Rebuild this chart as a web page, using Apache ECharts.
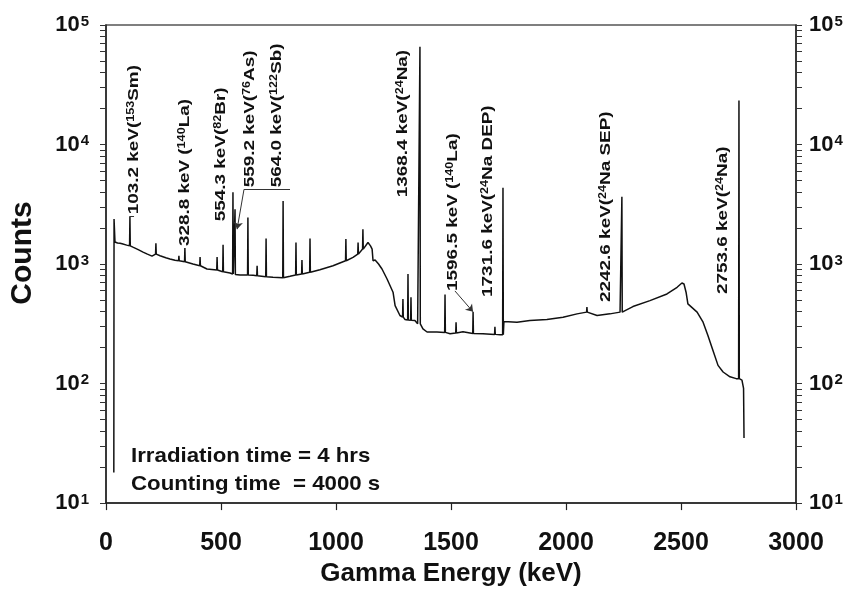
<!DOCTYPE html>
<html>
<head>
<meta charset="utf-8">
<title>Gamma spectrum</title>
<script src="https://cdn.jsdelivr.net/npm/echarts@6/dist/echarts.min.js"></script>
<style>
  html, body { margin: 0; padding: 0; background: #fff; }
  #main { width: 856px; height: 592px; }
</style>
</head>
<body>
<div id="main"></div>
<script>
(function () {

  // smooth part of the spectrum, [keV, counts]
  var continuum = [
    [34, 18], [35, 2380], [39, 1530], [50, 1500], [61, 1495], [66, 1540], [70, 1480],
    [90, 1440], [117, 1385], [140, 1320], [161, 1260], [180, 1210], [200, 1166],
    [235, 1173], [260, 1130], [278, 1101], [300, 1075], [378, 1000], [439, 909],
    [539, 841], [583, 810], [640, 805], [726, 774], [800, 790], [930, 897], [987, 968],
    [1074, 1137], [1139, 1516], [1150, 1420], [1157, 1334], [1161, 1066], [1170, 1080],
    [1178, 1101], [1185, 1000], [1200, 909], [1222, 750], [1248, 581], [1257, 449],
    [1278, 371], [1300, 344], [1343, 337], [1355, 316], [1378, 287], [1396, 270],
    [1439, 270], [1496, 261], [1552, 271], [1639, 261], [1713, 256], [1730, 330],
    [1787, 326], [1843, 337], [1917, 344], [1987, 359], [2048, 383], [2135, 371],
    [2191, 383], [2235, 396], [2257, 408], [2291, 441], [2365, 494], [2439, 562],
    [2483, 639], [2504, 694], [2513, 681], [2522, 581], [2530, 464], [2570, 396],
    [2596, 326], [2617, 252], [2639, 189], [2661, 142], [2683, 125], [2713, 114],
    [2740, 110], [2765, 107], [2772, 91], [2774, 35]
  ];

  // photopeaks: [keV, base counts, top counts]
  var peaks = [
    [104, 1420, 2512], [217, 1211, 1495], [317, 1066, 1173], [343, 1045, 1360],
    [409, 968, 1144], [483, 891, 1144], [509, 862, 1449], [552, 825, 3981],
    [561, 818, 2873], [617, 810, 2450], [657, 800, 968], [696, 784, 1637],
    [770, 769, 3375], [826, 810, 1516], [852, 825, 1080], [887, 853, 1637],
    [1043, 1066, 1616], [1096, 1211, 1516], [1117, 1334, 1957], [1291, 360, 511],
    [1313, 340, 825], [1326, 338, 527], [1365, 316, 65900], [1474, 268, 555],
    [1522, 265, 326], [1596, 262, 396], [1691, 258, 298], [1726, 256, 4357],
    [2091, 396, 436], [2243, 396, 3664], [2752, 110, 23400]
  ];

  var yDecades = [10, 100, 1000, 10000, 100000];

  // peak labels: text before superscript, superscript, text after
  var labelText = [
    ['103.2 keV(', '153', 'Sm)'],
    ['328.8 keV (', '140', 'La)'],
    ['554.3 keV(', '82', 'Br)'],
    ['559.2 keV(', '76', 'As)'],
    ['564.0 keV(', '122', 'Sb)'],
    ['1368.4 keV(', '24', 'Na)'],
    ['1596.5 keV (', '140', 'La)'],
    ['1731.6 keV(', '24', 'Na DEP)'],
    ['2242.6 keV(', '24', 'Na SEP)'],
    ['2753.6 keV(', '24', 'Na)']
  ];
  // where each label starts (bottom of the rotated text), in data units
  var labelAt = [
    [152, 2610], [374, 1413], [530, 2282], [657, 4381], [774, 4381],
    [1322, 3616], [1539, 596], [1691, 531], [2204, 482], [2713, 562]
  ];

  // leader lines and arrows, in data units
  var leaders = [
    [[104, 2512], [122, 2512], 'none'],
    [[600, 4217], [800, 4217], 'none'],
    [[600, 4217], [570, 1957], 'arrow'],
    [[1517, 596], [1596, 398], 'arrow']
  ];

  var notes = ['Irradiation time = 4 hrs', 'Counting time  = 4000 s'];

  var spectrum = continuum.map(function (p) { return p.slice(); });
  peaks.forEach(function (p) {
    spectrum.push([p[0] - 1.5, p[1]], [p[0], p[2]], [p[0] + 1.5, p[1]]);
  });
  spectrum.sort(function (a, b) { return a[0] - b[0]; });

  var allYTicks = [];
  yDecades.forEach(function (d, i) {
    allYTicks.push(d);
    if (i < yDecades.length - 1) {
      for (var k = 2; k <= 9; k++) allYTicks.push(d * k);
    }
  });

  var FONT = '"Liberation Sans", Arial, sans-serif';

  function powLabel(v) {
    var e = Math.round(Math.log(v) / Math.LN10);
    return '{b|10}{s|' + e + '}';
  }
  var powRich = {
    b: { fontSize: 22, fontWeight: 'bold', fontFamily: FONT, color: '#111', lineHeight: 22 },
    s: { fontSize: 15, fontWeight: 'bold', fontFamily: FONT, color: '#111', verticalAlign: 'top', lineHeight: 15, padding: [0, 0, 6, 1] }
  };

  function yAxis(pos, margin) {
    return {
      type: 'log',
      logBase: 10,
      position: pos,
      min: 10,
      max: 100000,
      axisLine: { show: true, lineStyle: { color: '#222', width: 1.5 } },
      axisTick: { show: true, inside: false, length: 6, customValues: allYTicks, lineStyle: { color: '#333', width: 1 } },
      axisLabel: { margin: margin, formatter: powLabel, rich: powRich },
      splitLine: { show: false },
      minorTick: { show: false }
    };
  }

  var myChart = echarts.init(document.getElementById('main'));
  var option = {
    animation: false,
    backgroundColor: '#fff',
    grid: { left: 106, right: 60, top: 25, bottom: 87, show: true, borderColor: '#555', borderWidth: 1.5 },
    xAxis: {
      type: 'value',
      min: 0,
      max: 3000,
      interval: 500,
      name: 'Gamma Energy (keV)',
      nameLocation: 'middle',
      nameGap: 54,
      nameTextStyle: { fontSize: 26, fontWeight: 'bold', fontFamily: FONT, color: '#111' },
      axisLine: { lineStyle: { color: '#222', width: 1.5 } },
      axisTick: { inside: false, length: 7, lineStyle: { color: '#222', width: 1.2 } },
      axisLabel: {
        margin: 28, fontSize: 25, fontWeight: 'bold', fontFamily: FONT, color: '#111',
        formatter: function (v) { return String(v); }
      },
      splitLine: { show: false }
    },
    yAxis: [yAxis('left', 17), yAxis('right', 13)],
    series: [{
      type: 'line',
      data: spectrum,
      showSymbol: false,
      symbol: 'none',
      lineStyle: { color: '#111', width: 1.5 },
      silent: true,
      markLine: {
        silent: true,
        animation: false,
        symbolSize: 7,
        label: { show: false },
        lineStyle: { color: '#333', width: 1, type: 'solid' },
        data: leaders.map(function (l) {
          return [{ coord: l[0], symbol: 'none' }, { coord: l[1], symbol: l[2] }];
        })
      }
    }]
  };
  myChart.setOption(option);

  // text that sits on the plot
  var graphics = [];
  labelText.forEach(function (t, i) {
    var p = myChart.convertToPixel({ gridIndex: 0 }, labelAt[i]);
    graphics.push({
      type: 'text',
      x: p[0],
      y: p[1],
      rotation: Math.PI / 2,
      scaleX: 1.26,
      silent: true,
      style: {
        text: '{m|' + t[0] + '}{s|' + t[1] + '}{m|' + t[2] + '}',
        align: 'left',
        verticalAlign: 'bottom',
        rich: {
          m: { fontSize: 15, fontWeight: 'bold', fontFamily: FONT, fill: '#111', lineHeight: 15 },
          s: { fontSize: 10, fontWeight: 'bold', fontFamily: FONT, fill: '#111', verticalAlign: 'top', lineHeight: 10, padding: [0, 0, 5, 0] }
        }
      }
    });
  });
  graphics.push({
    type: 'text',
    x: 23, y: 253,
    rotation: Math.PI / 2,
    silent: true,
    style: { text: 'Counts', fontSize: 30, fontWeight: 'bold', fontFamily: FONT, fill: '#111', align: 'center', verticalAlign: 'middle' }
  });
  notes.forEach(function (n, i) {
    graphics.push({
      type: 'text',
      x: 131, y: 456 + i * 28,
      scaleX: 1.06,
      silent: true,
      style: { text: n, fontSize: 21, fontWeight: 'bold', fontFamily: FONT, fill: '#111', align: 'left', verticalAlign: 'middle' }
    });
  });
  myChart.setOption({ graphic: graphics });
})();
</script>
</body>
</html>
